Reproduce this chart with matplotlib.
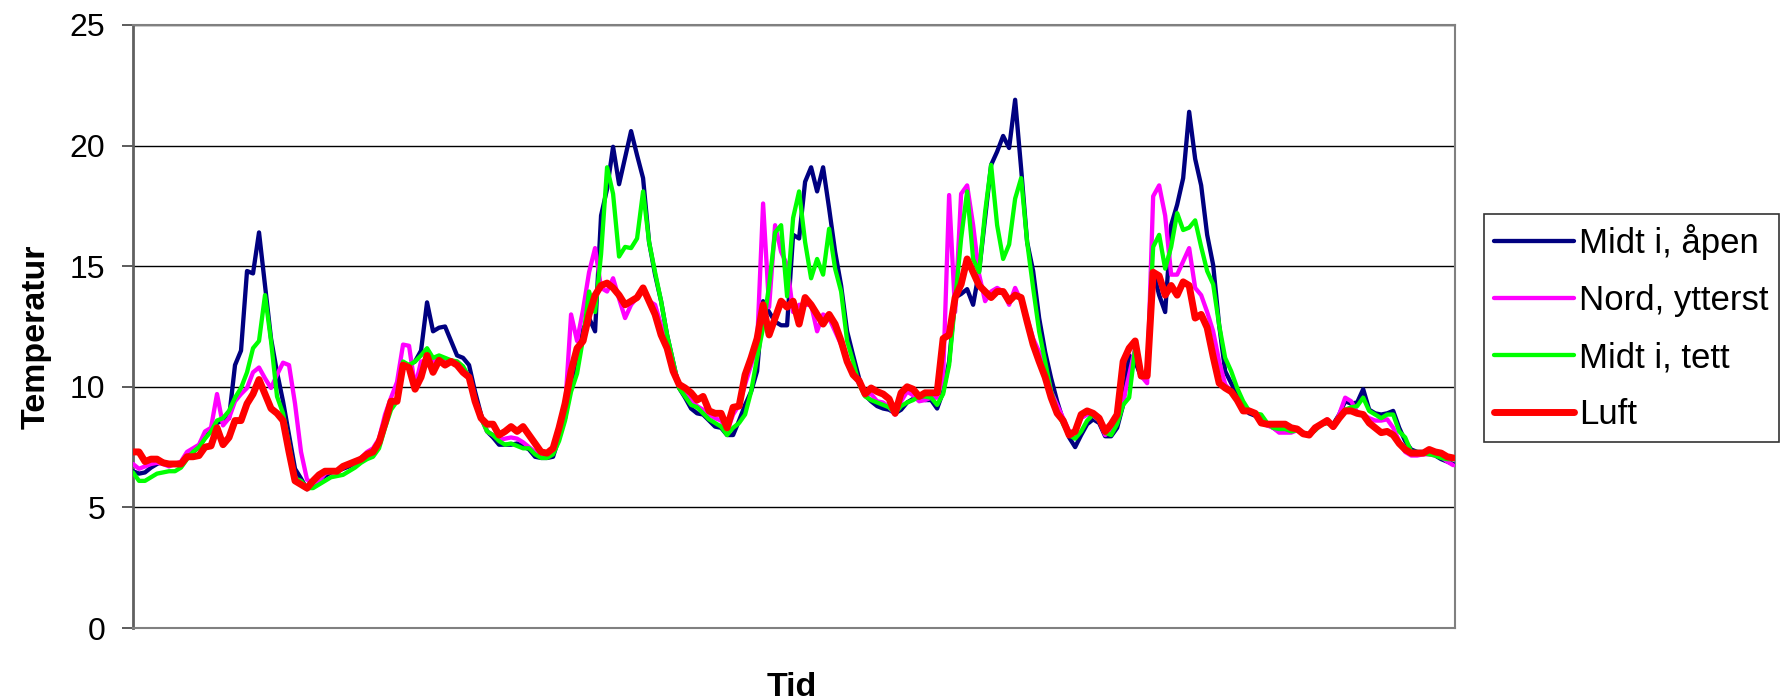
import numpy as np
import matplotlib
matplotlib.use("Agg")
import matplotlib.pyplot as plt

plt.rcParams['font.family'] = ['Liberation Sans', 'DejaVu Sans']

# Temperaturmålinger, lest av fra figuren (jevnt fordelt i tid)
midt_apen = [
    6.5, 6.4, 6.45, 6.65, 6.8, 6.9, 6.75, 6.8, 6.85, 7.1, 7.3, 7.5, 7.9, 8.2, 8.5, 8.6, 8.7, 10.9, 11.5, 14.8, 14.7, 16.4, 14.2, 12.0, 10.6, 9.4, 8.0, 6.6,
    6.2, 5.75, 5.95, 6.15, 6.3, 6.45, 6.5, 6.6, 6.7, 6.85, 7.05, 7.1, 7.25, 7.6, 8.5, 9.25, 9.4, 10.9, 10.9, 11.05, 11.5, 13.5, 12.3, 12.45, 12.5, 11.9, 11.3, 11.2,
    10.9, 9.8, 8.85, 8.15, 7.9, 7.6, 7.6, 7.6, 7.65, 7.55, 7.4, 7.1, 7.05, 7.05, 7.1, 7.9, 8.7, 10.1, 10.9, 12.4, 12.85, 12.3, 17.1, 18.2, 19.95, 18.4, 19.5,
    20.6, 19.6, 18.65, 16.0, 14.65, 13.55, 12.15, 11.05, 9.95, 9.55, 9.1, 8.9, 8.85, 8.6, 8.35, 8.3, 8.0, 8.0, 8.6, 9.25, 9.8, 10.65, 13.55, 13.1, 12.7, 12.55, 12.55, 16.3,
    16.15, 18.5, 19.1, 18.1, 19.1, 17.4, 15.6, 14.2, 12.3, 11.3, 10.35, 9.65, 9.4, 9.2, 9.1, 9.05, 8.9, 9.05, 9.35, 9.5, 9.6, 9.45, 9.45, 9.1, 9.8, 11.05, 13.7, 13.85,
    14.05, 13.4, 14.8, 17.0, 19.2, 19.75, 20.4, 19.9, 21.9, 19.05, 16.0, 14.8, 12.85, 11.45, 10.35, 9.4, 8.6, 7.9, 7.5, 8.0, 8.45, 8.65, 8.5, 7.95, 7.95, 8.3, 9.25,
    11.3, 11.05, 10.4, 10.4, 14.8, 13.8, 13.1, 16.7, 17.55, 18.65, 21.4, 19.45, 18.35, 16.3, 15.05, 12.55, 10.65, 10.15, 9.7, 9.15, 8.9, 8.8, 8.6, 8.45, 8.3, 8.15, 8.15, 8.15,
    8.25, 8.1, 8.0, 8.2, 8.45, 8.5, 8.45, 8.85, 9.4, 9.3, 9.35, 9.9, 9.05, 8.9, 8.85, 8.9, 9.0, 8.3, 7.75, 7.4, 7.3, 7.3, 7.3, 7.15, 7.0, 6.9, 6.8,
]
nord_ytterst = [
    6.8, 6.6, 6.7, 6.8, 6.85, 6.8, 6.7, 6.8, 6.9, 7.3, 7.45, 7.6, 8.15, 8.3, 9.7, 8.4, 8.7, 9.4, 9.7, 9.95, 10.6, 10.8, 10.35, 9.95, 10.5, 11.0, 10.9, 9.3,
    7.3, 6.15, 6.0, 6.1, 6.4, 6.5, 6.5, 6.65, 6.8, 6.9, 7.05, 7.3, 7.45, 7.85, 8.85, 9.55, 10.2, 11.75, 11.7, 10.0, 11.05, 11.05, 11.05, 11.2, 11.1, 11.05, 11.05, 10.8,
    10.4, 9.4, 8.7, 8.15, 8.0, 7.8, 7.85, 7.9, 7.85, 7.7, 7.5, 7.3, 7.15, 7.15, 7.3, 8.15, 9.1, 13.0, 11.9, 13.2, 14.75, 15.75, 14.1, 13.95, 14.5, 13.65, 12.85,
    13.4, 13.7, 14.1, 13.55, 13.4, 12.55, 11.9, 10.9, 10.1, 9.7, 9.4, 9.2, 9.05, 8.85, 8.7, 8.6, 8.15, 8.85, 9.25, 10.1, 10.9, 11.75, 17.6, 13.3, 16.7, 15.6, 15.05, 13.1,
    13.4, 13.4, 13.4, 12.3, 13.0, 12.85, 12.3, 11.75, 11.05, 10.65, 10.1, 9.7, 9.7, 9.4, 9.35, 9.15, 8.85, 9.4, 9.8, 9.65, 9.4, 9.45, 9.55, 9.55, 10.4, 17.95, 13.1, 18.0,
    18.35, 16.7, 14.65, 13.55, 13.95, 14.1, 13.95, 13.4, 14.1, 13.55, 12.85, 12.0, 11.45, 10.8, 9.8, 9.25, 8.7, 8.15, 8.1, 8.7, 8.85, 8.8, 8.6, 8.0, 8.15, 8.7, 9.4,
    10.5, 11.6, 10.45, 10.15, 17.9, 18.35, 17.1, 14.65, 14.65, 15.2, 15.75, 14.1, 13.8, 13.1, 12.3, 11.05, 10.1, 9.8, 9.5, 9.0, 9.0, 8.9, 8.5, 8.4, 8.3, 8.1, 8.1, 8.1,
    8.2, 8.1, 8.0, 8.3, 8.45, 8.65, 8.3, 8.85, 9.55, 9.4, 8.95, 8.85, 8.7, 8.6, 8.6, 8.65, 8.3, 7.75, 7.3, 7.15, 7.15, 7.2, 7.2, 7.15, 7.1, 6.9, 6.75,
]
midt_tett = [
    6.45, 6.1, 6.1, 6.25, 6.4, 6.45, 6.5, 6.5, 6.65, 7.0, 7.3, 7.5, 7.85, 8.15, 8.6, 8.7, 9.0, 9.55, 9.95, 10.6, 11.6, 11.9, 13.8, 11.9, 9.6, 8.9, 7.6, 6.2,
    6.1, 5.8, 5.8, 5.95, 6.1, 6.25, 6.3, 6.35, 6.5, 6.65, 6.85, 7.0, 7.1, 7.45, 8.3, 9.05, 9.4, 11.05, 10.9, 11.05, 11.3, 11.6, 11.2, 11.3, 11.2, 11.1, 11.05, 10.85,
    10.4, 9.4, 8.7, 8.15, 8.0, 7.75, 7.6, 7.65, 7.55, 7.45, 7.45, 7.2, 7.05, 7.05, 7.2, 7.75, 8.6, 9.8, 10.55, 12.0, 13.95, 13.1, 15.5, 19.1, 18.0, 15.4, 15.8,
    15.75, 16.15, 18.1, 16.0, 14.75, 13.55, 12.15, 11.05, 9.95, 9.6, 9.25, 9.15, 8.9, 8.65, 8.5, 8.35, 8.0, 8.3, 8.5, 8.85, 9.8, 11.2, 12.45, 14.2, 16.4, 16.7, 13.75, 17.0,
    18.1, 16.0, 14.5, 15.3, 14.65, 16.55, 14.9, 13.95, 11.9, 11.05, 10.1, 9.6, 9.45, 9.35, 9.25, 9.15, 8.9, 9.2, 9.35, 9.45, 9.6, 9.6, 9.55, 9.25, 9.7, 10.9, 13.55, 16.15,
    18.1, 15.3, 14.75, 17.25, 19.2, 16.7, 15.3, 15.9, 17.8, 18.65, 16.0, 14.1, 12.3, 11.05, 9.8, 9.0, 8.45, 8.0, 7.85, 8.15, 8.6, 8.85, 8.6, 8.1, 8.0, 8.45, 9.25,
    9.55, 11.6, 10.45, 10.7, 15.8, 16.3, 14.9, 15.8, 17.2, 16.5, 16.6, 16.9, 15.8, 14.8, 14.25, 12.55, 11.2, 10.65, 9.95, 9.4, 9.0, 8.9, 8.85, 8.5, 8.3, 8.25, 8.25, 8.15,
    8.2, 8.05, 8.05, 8.2, 8.45, 8.5, 8.4, 8.7, 9.05, 9.15, 9.2, 9.55, 9.0, 8.85, 8.7, 8.85, 8.85, 8.15, 7.9, 7.3, 7.3, 7.25, 7.2, 7.15, 7.05, 7.0, 7.0,
]
luft = [
    7.3, 7.3, 6.9, 7.0, 7.0, 6.85, 6.8, 6.8, 6.8, 7.1, 7.1, 7.15, 7.5, 7.55, 8.3, 7.6, 7.9, 8.6, 8.6, 9.3, 9.7, 10.3, 9.7, 9.1, 8.9, 8.6, 7.3, 6.1,
    5.95, 5.8, 6.1, 6.35, 6.5, 6.5, 6.5, 6.7, 6.8, 6.9, 7.0, 7.2, 7.3, 7.7, 8.5, 9.4, 9.4, 10.9, 10.8, 9.9, 10.4, 11.3, 10.6, 11.1, 10.9, 11.05, 10.9, 10.6,
    10.4, 9.4, 8.7, 8.45, 8.45, 8.0, 8.15, 8.35, 8.15, 8.35, 8.0, 7.65, 7.3, 7.25, 7.45, 8.3, 9.3, 10.65, 11.6, 11.9, 13.0, 13.8, 14.2, 14.3, 14.1, 13.8, 13.4,
    13.55, 13.7, 14.1, 13.55, 13.0, 12.15, 11.6, 10.65, 10.1, 9.95, 9.75, 9.45, 9.6, 9.0, 8.9, 8.9, 8.3, 9.15, 9.2, 10.5, 11.2, 12.0, 13.4, 12.15, 12.85, 13.55, 13.3, 13.55,
    12.6, 13.7, 13.4, 13.0, 12.6, 13.0, 12.6, 11.9, 11.05, 10.5, 10.25, 9.7, 9.95, 9.8, 9.7, 9.5, 8.9, 9.75, 10.0, 9.9, 9.6, 9.75, 9.75, 9.75, 12.0, 12.15, 13.7, 14.25,
    15.3, 14.75, 14.2, 13.95, 13.7, 13.95, 13.95, 13.55, 13.8, 13.7, 12.7, 11.75, 11.05, 10.4, 9.55, 8.9, 8.6, 8.0, 8.15, 8.85, 9.0, 8.9, 8.7, 8.15, 8.45, 8.85, 11.05,
    11.6, 11.9, 10.45, 10.45, 14.75, 14.6, 13.8, 14.2, 13.8, 14.35, 14.2, 12.85, 13.0, 12.45, 11.25, 10.15, 9.95, 9.8, 9.45, 9.0, 9.0, 8.9, 8.5, 8.45, 8.45, 8.45, 8.45, 8.3,
    8.25, 8.05, 8.0, 8.3, 8.45, 8.6, 8.35, 8.7, 9.0, 9.0, 8.9, 8.85, 8.5, 8.3, 8.1, 8.15, 8.0, 7.65, 7.4, 7.25, 7.25, 7.25, 7.4, 7.3, 7.25, 7.1, 7.05,
]

serier = [
    ("Midt i, åpen", midt_apen, "#000080", 3.1),
    ("Nord, ytterst", nord_ytterst, "#FF00FF", 3.1),
    ("Midt i, tett", midt_tett, "#00FF00", 3.1),
    ("Luft", luft, "#FF0000", 5.0),
]
y_ticks = [0, 5, 10, 15, 20, 25]


def main():
    fig = plt.figure(figsize=(17.85, 7.0), dpi=100)
    ax = fig.add_axes([133 / 1785, 1 - 628 / 700, 1322 / 1785, 603 / 700])

    for navn, verdier, farge, lw in serier:
        x = np.arange(len(verdier))
        ax.plot(x, verdier, color=farge, linewidth=lw, label=navn,
                solid_joinstyle='round', solid_capstyle='round', zorder=3)

    n = max(len(s[1]) for s in serier)
    ax.set_xlim(0, n - 0.7)
    ax.set_ylim(0, 25)
    ax.set_yticks(y_ticks)
    ax.set_xticks([])
    ax.grid(axis='y', color='black', linewidth=1.0, zorder=1)
    ax.tick_params(axis='y', labelsize=23, length=8, width=1.2, pad=12, color='#404040')
    for side in ['top', 'right', 'bottom']:
        ax.spines[side].set_color('#808080')
        ax.spines[side].set_linewidth(1.5)
    ax.spines['left'].set_color('#606060')
    ax.spines['left'].set_linewidth(2.0)

    fig.text(36 / 1785, 1 - 337 / 700, "Temperatur", rotation=90, fontsize=24.5,
             fontweight='bold', ha='center', va='center')
    fig.text(792 / 1785, 1 - 696 / 700, "Tid", fontsize=24.5, fontweight='bold',
             ha='center', va='baseline')

    leg = fig.legend(loc='upper left', bbox_to_anchor=(1484 / 1785, 1 - 214 / 700),
                     fontsize=25, frameon=True, fancybox=False, edgecolor='black',
                     handlelength=2.28, handletextpad=0.17, labelspacing=0.69,
                     borderpad=0.3, borderaxespad=0)
    leg.get_frame().set_linewidth(1.2)

    fig.savefig("out.png", dpi=100)


if __name__ == "__main__":
    main()
